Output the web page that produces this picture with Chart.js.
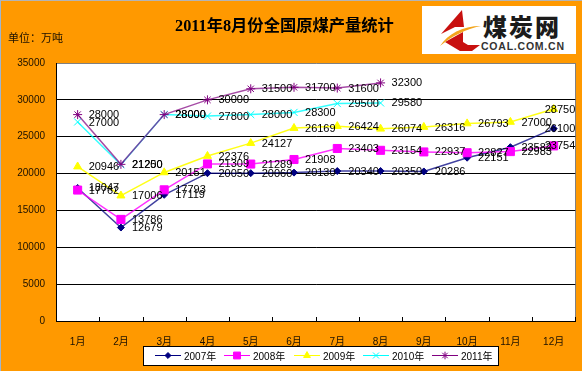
<!DOCTYPE html>
<html>
<head>
<meta charset="utf-8">
<title>2011年8月份全国原煤产量统计</title>
<script src="https://cdn.jsdelivr.net/npm/chart.js@4"></script>
<style>
html, body { margin: 0; padding: 0; background: #ff9900; }
#wrap { position: relative; width: 582px; height: 371px; overflow: hidden; background: #ff9900; }
#coalChart { position: absolute; left: 0; top: 0; }
#edge { position: absolute; left: 0; top: 0; width: 582px; height: 371px; box-sizing: border-box; border-top: 1px solid #b4b4b4; border-left: 1px solid #9fb6d0; pointer-events: none; }
#heading { position: absolute; left: 175px; top: 14px; white-space: nowrap; font: bold 16.3px/24px "Liberation Serif", "Noto Sans CJK SC"; color: #000; }
#unit { position: absolute; left: 8px; top: 29px; font: 11px "Noto Sans CJK SC"; color: #1a1000; }
#logo { position: absolute; left: 422px; top: 6px; }
</style>
</head>
<body>
<div id="wrap">
  <canvas id="coalChart" width="582" height="371"></canvas>
  <div id="heading">2011年8月份全国原煤产量统计</div>
  <div id="unit">单位：万吨</div>
  <svg id="logo" width="154" height="48" viewBox="0 0 154 48">
    <rect width="154" height="48" fill="#fff"/>
    <polygon points="40,4 42,21 33,21 19,28" fill="#c8100f"/>
    <polygon points="23,36 41,26 41,36 46,39 58,39 50,45 38,45" fill="#c8100f"/>
    <path d="M18,40 C26,28 40,20 59,20 C44,23 30,30 18,40 Z" fill="#f3a51c"/>
    <text x="61" y="30" font-family="Noto Sans CJK SC" font-weight="900" font-size="24" textLength="76" fill="#1b1b1b">煤炭网</text>
    <text x="59" y="44" font-family="Liberation Sans" font-weight="bold" font-size="10.5" textLength="83" fill="#333">COAL.COM.CN</text>
  </svg>
  <div id="edge"></div>
</div>
<script>
var months = ['1月', '2月', '3月', '4月', '5月', '6月', '7月', '8月', '9月', '10月', '11月', '12月']
var seriesNames = ['2007年', '2008年', '2009年', '2010年', '2011年']
var y2007 = [18047, 12679, 17119, 20050, 20060, 20130, 20340, 20350, 20286, 22151, 23582, 26100]
var y2008 = [17762, 13786, 17793, 21309, 21289, 21908, 23403, 23154, 22937, 22827, 22983, 23754]
var y2009 = [20946, 17006, 20151, 22376, 24127, 26169, 26424, 26074, 26316, 26793, 27000, 28750]
var y2010 = [27000, 21200, 28000, 27800, 28000, 28300, 29500, 29580]
var y2011 = [28000, 21250, 28000, 30000, 31500, 31700, 31600, 32300]

function makeSet(i, values, color, lineColor, style, radius) {
    return {
        label: seriesNames[i],
        data: values,
        borderColor: lineColor,
        backgroundColor: color,
        borderWidth: 1.5,
        tension: 0,
        pointStyle: style,
        pointRadius: radius,
        pointBorderColor: color,
        pointBackgroundColor: color,
        pointBorderWidth: 1,
        order: 5 - i // later years paint over earlier ones
    }
}

// white plot area, grey right edge
var plotBack = {
    id: 'plotBack',
    beforeDraw: function (chart) {
        var a = chart.chartArea, c = chart.ctx
        c.save()
        c.fillStyle = '#fff'
        c.fillRect(a.left, a.top, a.width, a.height)
        c.strokeStyle = '#808080'
        c.lineWidth = 1
        c.beginPath()
        c.moveTo(Math.round(a.right) + 0.5, a.top)
        c.lineTo(Math.round(a.right) + 0.5, a.bottom)
        c.stroke()
        c.restore()
    }
}

// short ticks pointing into the plot, between the months
var innerTicks = {
    id: 'innerTicks',
    afterDatasetsDraw: function (chart) {
        var x = chart.scales.x, a = chart.chartArea, c = chart.ctx
        var step = x.getPixelForValue(1) - x.getPixelForValue(0)
        c.save()
        c.strokeStyle = '#000'
        c.lineWidth = 1
        c.beginPath()
        for (var i = 0; i < months.length; i++) {
            var px = Math.round(x.getPixelForValue(i) + step / 2) + 0.5
            c.moveTo(px, a.bottom)
            c.lineTo(px, a.bottom - 4)
        }
        c.stroke()
        c.restore()
    }
}

// every point has its value written to the right of it, kept inside the plot
var pointLabels = {
    id: 'pointLabels',
    afterDatasetsDraw: function (chart) {
        var c = chart.ctx, right = chart.chartArea.right
        c.save()
        c.font = '11px "Liberation Sans"'
        c.fillStyle = '#000'
        c.textAlign = 'left'
        c.textBaseline = 'middle'
        chart.data.datasets.forEach(function (set, d) {
            chart.getDatasetMeta(d).data.forEach(function (pt, i) {
                var text = String(set.data[i])
                var tx = Math.min(pt.x + 11, right - c.measureText(text).width)
                c.fillText(text, tx, pt.y + 0.5)
            })
        })
        c.restore()
    }
}

// legend box: line with the marker on it, then the year
var boxLegend = {
    id: 'boxLegend',
    afterDraw: function (chart) {
        var c = chart.ctx
        var slots = [155, 224, 294, 363, 432]
        c.save()
        c.fillStyle = '#fff'
        c.fillRect(143.5, 346.5, 355, 19)
        c.strokeStyle = '#000'
        c.lineWidth = 1
        c.strokeRect(143.5, 346.5, 355, 19)
        c.font = '10px "Liberation Sans", "Noto Sans CJK SC"'
        c.textBaseline = 'middle'
        chart.data.datasets.forEach(function (set, d) {
            var x = slots[d]
            c.strokeStyle = set.pointBorderColor
            c.lineWidth = 1
            c.beginPath()
            c.moveTo(x, 355.5)
            c.lineTo(x + 26, 355.5)
            c.stroke()
            c.fillStyle = set.backgroundColor
            Chart.helpers.drawPoint(c, {
                pointStyle: set.pointStyle,
                radius: set.pointRadius * 0.85,
                borderWidth: 1
            }, x + 13, 355.5)
            c.fillStyle = '#000'
            c.fillText(set.label, x + 29, 357)
        })
        c.restore()
    }
}

new Chart(document.getElementById('coalChart'), {
    type: 'line',
    data: {
        labels: months,
        datasets: [
            makeSet(0, y2007, '#000080', 'rgba(0,0,128,0.75)', 'rectRot', 3.5),
            makeSet(1, y2008, '#ff00ff', 'rgba(255,0,255,0.8)', 'rect', 5.7),
            makeSet(2, y2009, '#ffff00', 'rgba(255,255,0,0.9)', 'triangle', 4.6),
            makeSet(3, y2010, '#00ffff', 'rgba(0,255,255,0.8)', 'crossRot', 5),
            makeSet(4, y2011, '#800080', 'rgba(128,0,128,0.7)', 'star', 4.5)
        ]
    },
    options: {
        responsive: false,
        animation: false,
        layout: { padding: { left: 0, right: 5, top: 63, bottom: 0 } },
        plugins: {
            legend: { display: false },
            tooltip: { enabled: false }
        },
        scales: {
            x: {
                offset: true,
                afterFit: function (s) { s.height = 50; s.paddingLeft = 0; s.paddingRight = 0 },
                grid: { display: false },
                border: { color: '#000', width: 1 },
                ticks: {
                    padding: 7,
                    color: '#1a1000',
                    maxRotation: 0,
                    autoSkip: false,
                    font: { family: '"Liberation Sans", "Noto Sans CJK SC"', size: 10 }
                }
            },
            y: {
                min: 0,
                max: 35000,
                afterFit: function (s) { s.width = 56; s.paddingTop = 0; s.paddingBottom = 0 },
                grid: {
                    color: function (ctx) { return ctx.tick.value === 35000 ? '#808080' : '#000' },
                    drawTicks: false
                },
                border: { color: '#000', width: 1 },
                ticks: {
                    stepSize: 5000,
                    padding: 11,
                    color: '#1a1000',
                    font: { family: '"Liberation Sans"', size: 10 },
                    callback: function (v) { return String(v) }
                }
            }
        }
    },
    plugins: [plotBack, innerTicks, pointLabels, boxLegend]
})
</script>
</body>
</html>
